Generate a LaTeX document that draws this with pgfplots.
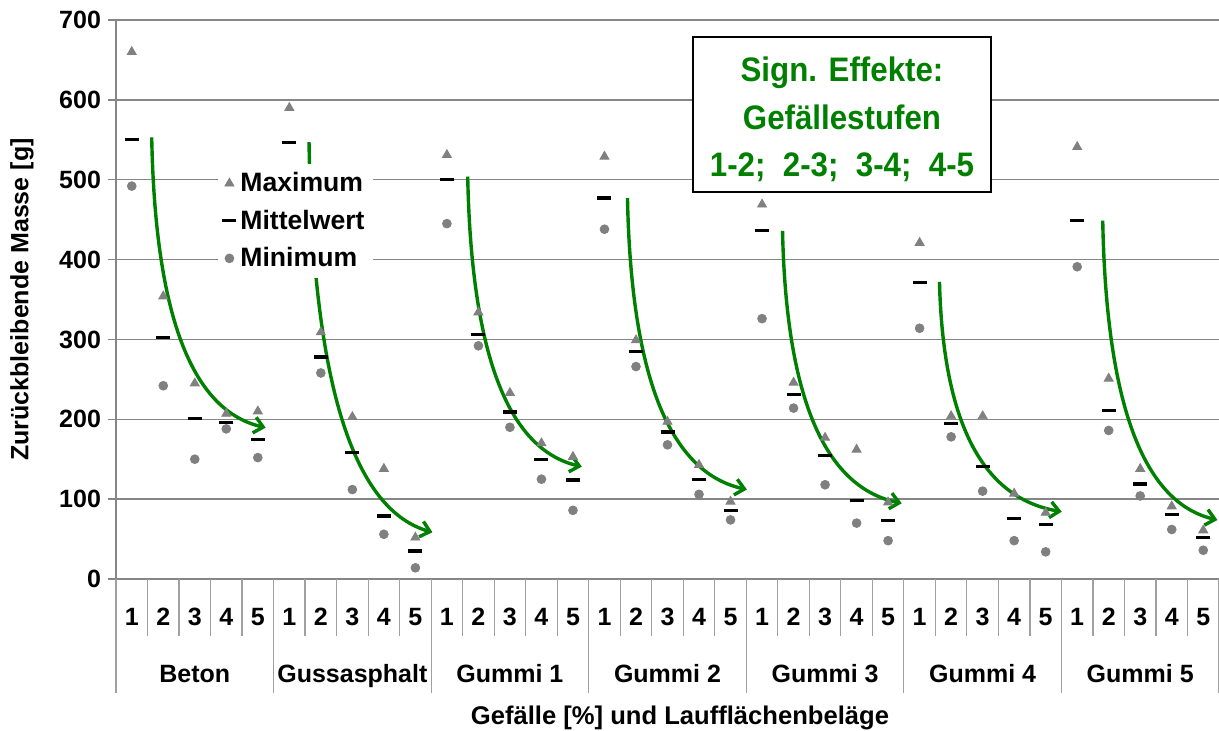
\documentclass[border=0pt]{standalone}
\usepackage{fontspec}
\setmainfont{Liberation Sans}
\newfontfamily\boxfont{Liberation Sans}[FakeStretch=0.92]
\usepackage{pgfplots}
\pgfplotsset{compat=1.18}
\usetikzlibrary{arrows.meta}
\definecolor{mkgray}{RGB}{128,128,128}
\definecolor{gridgray}{RGB}{134,134,134}
\definecolor{sepgray}{RGB}{160,160,160}
\definecolor{arrowgreen}{RGB}{0,128,0}

\pgfplotstableread{
x   max  mean  min
0   660  550   492
1   354  302   242
2   245  201   150
3   207  196   188
4   210  175   152
5   590  547   490
6   309  278   258
7   203  158   112
8   138  79    56
9   52   35    14
10  531  500   445
11  334  306   292
12  233  209   190
13  170  150   125
14  153  124   86
15  529  477   438
16  299  285   266
17  197  184   168
18  143  125   106
19  97   86    74
20  469  436   326
21  246  231   214
22  177  155   118
23  162  98    70
24  96   73    48
25  421  371   314
26  204  195   178
27  204  141   110
28  107  76    48
29  83   68    34
30  541  449   391
31  251  211   186
32  138  119   104
33  91   81    62
34  61   52    36
}\datatable

\begin{document}
\begin{tikzpicture}
\useasboundingbox (-58pt,-76pt) rectangle (551.5pt,289.5pt);
\begin{axis}[
  scale only axis, width=551.5pt, height=279.5pt,
  at={(0pt,0pt)}, anchor=south west,
  xmin=-0.5, xmax=34.5, ymin=0, ymax=700,
  axis lines*=left,
  axis line style={gridgray, line width=0.7pt},
  ytick={0,100,...,700},
  ymajorgrids, grid style={gridgray, line width=0.7pt},
  tick align=outside, major tick length=4pt,
  ytick style={gridgray, line width=0.7pt},
  xtick={0,...,34},
  xticklabels={1,2,3,4,5,1,2,3,4,5,1,2,3,4,5,1,2,3,4,5,1,2,3,4,5,1,2,3,4,5,1,2,3,4,5},
  xtick style={draw=none},
  tick label style={font=\bfseries\fontsize{12.5}{15}\selectfont},
  /pgf/number format/assume math mode=true,
  xticklabel style={anchor=base, yshift=-19.5pt},
  extra x ticks={2,7,12,17,22,27,32},
  extra x tick labels={Beton,Gussasphalt,Gummi 1,Gummi 2,Gummi 3,Gummi 4,Gummi 5},
  extra x tick style={xtick style={draw=none}, grid=none, xticklabel style={yshift=-28.3pt}},
  every axis y label/.style={at={(axis description cs:-0.0852,0.5)}, rotate=90, anchor=center, font=\bfseries\fontsize{12.5}{15}\selectfont},
  ylabel={Zurückbleibende Masse [g]},
  every axis x label/.style={at={(axis description cs:0.5113,0)}, yshift=-73pt, anchor=base, font=\bfseries\fontsize{12.8}{15}\selectfont},
  xlabel={Gefälle [\%] und Laufflächenbeläge},
  clip=false,
  legend style={at={(0.0925,0.7426)}, anchor=north west, draw=none, fill=white,
    font=\bfseries\fontsize{13.3}{15.6}\selectfont, row sep=3.6pt, inner sep=2pt},
  legend cell align=left,
  legend image code/.code={\draw[mark repeat=2,mark phase=2,#1] plot coordinates {(0pt,0pt)(4pt,0pt)(8pt,0pt)};},
]
\addplot[only marks, mark=triangle*, mark size=2.6pt, color=mkgray] table[x=x,y=max] {\datatable};
\addlegendentry{Maximum}
\addplot[only marks, mark=-, mark size=3.5pt, color=black, mark options={line width=1.6pt}] table[x=x,y=mean] {\datatable};
\addlegendentry{Mittelwert}
\addplot[only marks, mark=*, mark size=2.2pt, color=mkgray] table[x=x,y=min] {\datatable};
\addlegendentry{Minimum}

\begin{scope}[arrowgreen, line width=1.7pt, -{Straight Barb[length=4.5pt,width=8pt]}]
\draw (0.633,553) .. controls (0.75,320) and (2.0,210) .. (4.25,189.5);
\draw (5.625,547) .. controls (5.75,234.4) and (7.11,85.9) .. (9.54,58.5);
\draw (10.66,504) .. controls (10.78,271.5) and (12.04,161) .. (14.28,140.7);
\draw (15.73,477) .. controls (15.85,243.4) and (17.17,132.4) .. (19.52,112);
\draw (20.65,436) .. controls (20.77,217.6) and (22.09,113.9) .. (24.43,94.8);
\draw (25.63,372) .. controls (25.75,187.9) and (27.10,100.4) .. (29.51,84.3);
\draw (30.81,448.8) .. controls (30.93,208.9) and (32.19,94.9) .. (34.45,73.9);
\end{scope}

\node[draw=black, line width=1pt, fill=white, minimum width=149pt, minimum height=77.5pt,
  inner sep=0pt] at (rel axis cs:0.6582,0.831) {};
\node[inner sep=0pt, align=center, text=arrowgreen, yshift=-2.5pt,
  font=\boxfont\bfseries\fontsize{17}{23.7}\selectfont] at (rel axis cs:0.6582,0.831)
  {Sign. Effekte:\\Gefällestufen\\1-2;\ \ 2-3;\ \ 3-4;\ \ 4-5};
\end{axis}
\foreach \k in {0,...,35} {
  \pgfmathsetmacro\len{mod(\k,5)==0 ? 57 : 28.5}
  \draw[sepgray, line width=0.6pt] (\k*15.7571pt,0pt) -- ++(0pt,-\len pt);
}
\end{tikzpicture}
\end{document}
